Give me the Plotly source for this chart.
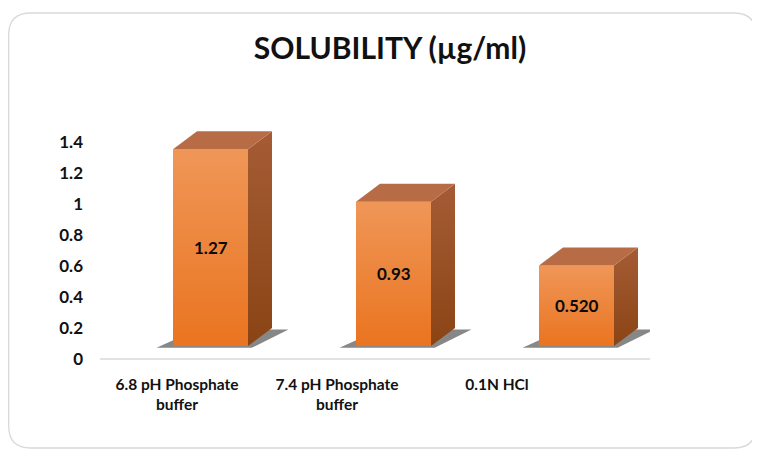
import plotly.graph_objects as go

# ---------------- data ----------------
categories = ["6.8 pH Phosphate<br>buffer", "7.4 pH Phosphate<br>buffer", "0.1N HCl"]
solubility = [1.27, 0.93, 0.52]
value_labels = ["1.27", "0.93", "0.520"]
y_ticks = [0, 0.2, 0.4, 0.6, 0.8, 1.0, 1.2, 1.4]
y_tick_text = ["0", "0.2", "0.4", "0.6", "0.8", "1", "1.2", "1.4"]

# ---------------- layout geometry (page pixels, body margin compensated) ----------------
OFF = 8  # default body margin of the html page
W, H = 760 - OFF, 452 - OFF
PLOT_LEFT, PLOT_RIGHT, PLOT_TOP, PLOT_BOTTOM = 100 - OFF, 650 - OFF, 100 - OFF, 370 - OFF
L_M, R_M, T_M, B_M = PLOT_LEFT, W - PLOT_RIGHT, PLOT_TOP, H - PLOT_BOTTOM
PW, PH = PLOT_RIGHT - PLOT_LEFT, PLOT_BOTTOM - PLOT_TOP
PX_PER_UNIT_Y = 155.0
PX_PER_CAT = 183.0
Y_ZERO_PX = 359 - OFF
FIRST_BAR_PX = 210.5 - OFF
FIRST_LABEL_PX = 177 - OFF
y_range = [-(PLOT_BOTTOM - Y_ZERO_PX) / PX_PER_UNIT_Y, (Y_ZERO_PX - PLOT_TOP) / PX_PER_UNIT_Y]
x_lo = -(FIRST_BAR_PX - PLOT_LEFT) / PX_PER_CAT
x_range = [x_lo, x_lo + PW / PX_PER_CAT]

BAR_W = 75 / PX_PER_CAT
DX = 24 / PX_PER_CAT
DY = 18 / PX_PER_UNIT_Y
BASE = 13 / PX_PER_UNIT_Y
LABEL_SPACING = 160 / PX_PER_CAT
LABEL_SHIFT = -(FIRST_BAR_PX - FIRST_LABEL_PX) / PX_PER_CAT

FONT = "Lato"
xs = list(range(len(categories)))

fig = go.Figure()

# front faces
fig.add_trace(go.Bar(
    x=xs, y=solubility, base=[BASE] * len(xs), width=BAR_W,
    marker=dict(color="#EA7420", line=dict(width=0)),
    showlegend=False, hoverinfo="skip",
))

shapes = []
annotations = []
for i, v, lab in zip(xs, solubility, value_labels):
    l, r = i - BAR_W / 2, i + BAR_W / 2
    top = BASE + v
    # shadow on floor
    shapes.append(dict(
        type="path", xref="x", yref="y", layer="below",
        path=(f"M{l-0.09},{BASE-0.012} L{r+0.02},{BASE-0.012} "
              f"L{r+DX+0.09},{BASE+DY-0.01} L{l+DX},{BASE+DY-0.01} Z"),
        fillcolor="rgba(55,55,55,0.6)", line=dict(width=0),
    ))
    # front gradient overlay
    fig.add_trace(go.Scatter(
        x=[l, r, r, l, l], y=[BASE, BASE, top, top, BASE], mode="none", fill="toself",
        fillgradient=dict(type="vertical",
                          colorscale=[[0, "rgba(255,255,255,0)"], [1, "rgba(255,255,255,0.25)"]]),
        showlegend=False, hoverinfo="skip",
    ))
    # side face
    fig.add_trace(go.Scatter(
        x=[r, r + DX, r + DX, r, r], y=[BASE, BASE + DY, top + DY, top, BASE],
        mode="none", fill="toself",
        fillgradient=dict(type="vertical", colorscale=[[0, "#8A4414"], [1, "#A55C35"]]),
        showlegend=False, hoverinfo="skip",
    ))
    # top face
    fig.add_trace(go.Scatter(
        x=[l, l + DX, r + DX, r, l], y=[top, top + DY, top + DY, top, top],
        mode="none", fill="toself", fillcolor="#B86C45",
        showlegend=False, hoverinfo="skip",
    ))
    # data label in the middle of the front face
    annotations.append(dict(
        x=i, y=BASE + v / 2, xref="x", yref="y", text=f"<b>{lab}</b>",
        showarrow=False, xanchor="center", yanchor="middle",
        font=dict(family=FONT, size=17, color="#0A0A0A"),
    ))

# baseline
shapes.append(dict(type="line", xref="paper", yref="y", x0=0, x1=1, y0=0, y1=0,
                   line=dict(color="#D9D9D9", width=1.3), layer="below"))

# rounded chart border (page pixels -> paper)
def px(xp):
    return (xp - OFF - PLOT_LEFT) / PW

def py(yp):
    return (PLOT_BOTTOM - (yp - OFF)) / PH

fx0, fx1, fy0, fy1, rad = 8.7, 756, 13, 448, 22
rx, ry = rad / PW, rad / PH
a, b, c, d = px(fx0), px(fx1), py(fy0), py(fy1)
frame = (f"M{a+rx},{c} L{b-rx},{c} Q{b},{c} {b},{c-ry} L{b},{d+ry} Q{b},{d} {b-rx},{d} "
         f"L{a+rx},{d} Q{a},{d} {a},{d+ry} L{a},{c-ry} Q{a},{c} {a+rx},{c} Z")
shapes.append(dict(type="path", xref="paper", yref="paper", path=frame,
                   line=dict(color="#D9D9D9", width=1.3), layer="below"))

fig.update_layout(
    width=W, height=H,
    margin=dict(l=L_M, r=R_M, t=T_M, b=B_M),
    paper_bgcolor="white", plot_bgcolor="rgba(0,0,0,0)",
    title=dict(text="<b>SOLUBILITY (µg/ml)</b>", x=(390 - OFF) / W, xanchor="center",
               y=1 - (48 - OFF) / H, yanchor="middle",
               font=dict(family=FONT, size=30, color="#111111")),
    shapes=shapes,
    annotations=annotations,
    showlegend=False,
    xaxis=dict(range=x_range, showgrid=False, zeroline=False, showline=False,
               tickvals=[LABEL_SHIFT + i * LABEL_SPACING for i in xs],
               ticktext=[f"<b>{cat}</b>" for cat in categories],
               tickfont=dict(family=FONT, size=15.5, color="#111111"),
               ticks="", ticklabelstandoff=3),
    yaxis=dict(range=y_range, showgrid=False, zeroline=False, showline=False,
               tickvals=y_ticks, ticktext=[f"<b>{t}</b>" for t in y_tick_text],
               tickfont=dict(family=FONT, size=17, color="#111111"),
               ticks="", ticklabelstandoff=16),
)

fig.write_html("out.html")
